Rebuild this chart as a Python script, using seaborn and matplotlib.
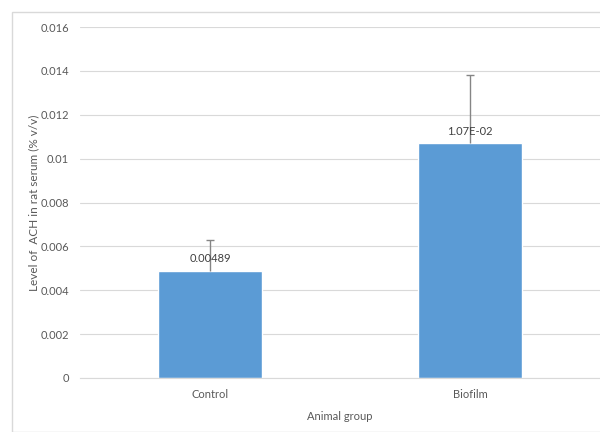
import matplotlib
matplotlib.use("Agg")
import matplotlib.pyplot as plt
import matplotlib.patches as patches
import seaborn as sns
import pandas as pd

# data
groups = ["Control", "Biofilm"]
ach_level = [0.00489, 0.0107]
err_plus = [0.0014, 0.0031]
bar_labels = ["0.00489", "1.07E-02"]
y_ticks = [0, 0.002, 0.004, 0.006, 0.008, 0.01, 0.012, 0.014, 0.016]
y_tick_labels = ["0", "0.002", "0.004", "0.006", "0.008", "0.01", "0.012", "0.014", "0.016"]

sns.set_style("white")
plt.rcParams["font.family"] = ["Lato", "DejaVu Sans"]
text_col = "#595959"

df = pd.DataFrame({"group": groups, "level": ach_level})
df["top"] = df["level"] + pd.Series(err_plus)

fig = plt.figure(figsize=(6, 4.32), dpi=100)
ax = fig.add_axes([80 / 600, 1 - 378 / 432, 520 / 600, (378 - 27) / 432])

sns.barplot(data=df, x="group", y="level", color="#5B9BD5", saturation=1,
            width=0.4, ax=ax, zorder=2)

# Excel style plus-only error bars (cap on top only)
xs = list(range(len(groups)))
ax.vlines(xs, df["level"], df["top"], color="#858585", linewidth=1, zorder=3)
ax.plot(xs, df["top"], linestyle="none", marker="_", markersize=6,
        markeredgewidth=1, color="#858585", zorder=3)

# data labels
for i, lab in enumerate(bar_labels):
    ax.text(i, ach_level[i] + 0.0003, lab, ha="center", va="bottom",
            fontsize=8, color="#404040", zorder=4)

ax.set_ylim(0, 0.016)
ax.set_xlim(-0.5, 1.5)
ax.set_yticks(y_ticks)
ax.set_yticklabels(y_tick_labels)
ax.yaxis.grid(True, color="#d9d9d9", linewidth=0.8, zorder=0)
ax.set_axisbelow(True)
for s in ["top", "right", "left"]:
    ax.spines[s].set_visible(False)
ax.spines["bottom"].set_color("#d9d9d9")
ax.tick_params(axis="both", length=0, labelsize=8, colors=text_col, pad=8)

ax.set_xlabel("Animal group", fontsize=8, color=text_col, labelpad=8)
ax.set_ylabel("Level of  ACH in rat serum (% v/v)", fontsize=8.5, color=text_col, labelpad=1)

# chart border
fig.patches.append(patches.Rectangle((12 / 600, 0), 1, 1 - 12 / 432, transform=fig.transFigure,
                                     fill=False, edgecolor="#d9d9d9", linewidth=1))

fig.savefig("out.png", dpi=100)
